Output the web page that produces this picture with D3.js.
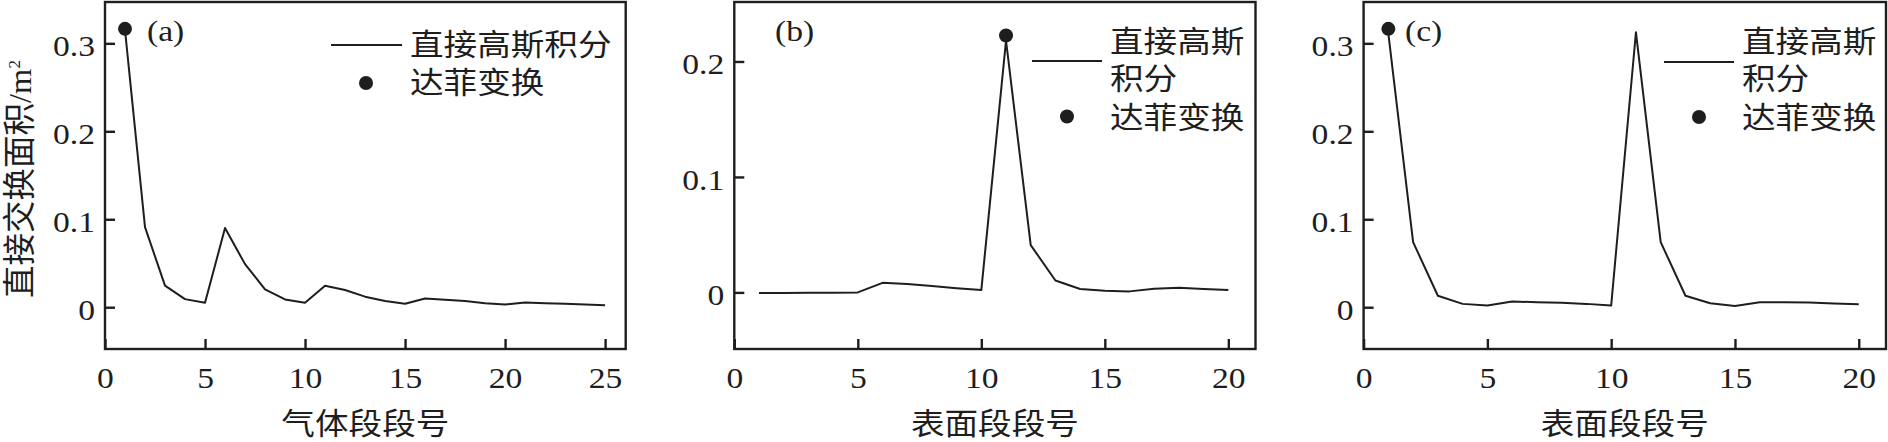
<!DOCTYPE html>
<html><head><meta charset="utf-8">
<script src="https://cdn.jsdelivr.net/npm/d3@7"></script>
<style>body{margin:0;background:#fff} svg{display:block}</style>
</head><body>
<svg id="chart" width="1888" height="442"></svg>
<script>
// ---------- data ----------
const segA = [1,2,3,4,5,6,7,8,9,10,11,12,13,14,15,16,17,18,19,20,21,22,23,24,25];
const gaussA = [0.315,0.091,0.0245,0.0092,0.005,0.090,0.049,0.0203,0.0088,0.005,0.0245,0.0195,0.012,0.007,0.004,0.010,0.0085,0.007,0.0046,0.003,0.0054,0.0046,0.004,0.003,0.0023];
const daffyAx = [1];
const daffyAy = [0.3165];

const segB = [1,2,3,4,5,6,7,8,9,10,11,12,13,14,15,16,17,18,19,20];
const gaussB = [-0.0005,-0.0004,-0.0003,-0.0002,0,0.0083,0.0072,0.0055,0.0037,0.002,0.218,0.041,0.0103,0.0029,0.0014,0.0009,0.0032,0.004,0.0029,0.002];
const daffyBx = [11];
const daffyBy = [0.2225];

const segC = [1,2,3,4,5,6,7,8,9,10,11,12,13,14,15,16,17,18,19,20];
const gaussC = [0.311,0.074,0.013,0.0038,0.0019,0.0065,0.0057,0.005,0.0038,0.0019,0.3126,0.074,0.013,0.0046,0.0015,0.0057,0.0057,0.0054,0.0042,0.0034];
const daffyCx = [1];
const daffyCy = [0.3165];

const xTicksA = [0,5,10,15,20,25];
const xTicksBC = [0,5,10,15,20];
const yTicksAC = [0,0.1,0.2,0.3];
const yTicksB = [0,0.1,0.2];
const tags = ['(a)','(b)','(c)'];
const xTitles = ['气体段段号','表面段段号','表面段段号'];
const yTitle = '直接交换面积/m';
const legendLine = '直接高斯积分';
const legendLineWrapped = ['直接高斯','积分'];
const legendDot = '达菲变换';

// ---------- layout ----------
const SX = 1.12;
const INK = '#1e1e1e';
const serif = "'Liberation Serif','Times New Roman',serif";
const cjk = "'Liberation Serif','Noto Sans CJK SC',sans-serif";
const plotTop = 2, plotBottom = 349;

const panels = [
  {xs: segA, ys: gaussA, dx: daffyAx, dy: daffyAy, left: 105, right: 625.7, xDom: [0, 26.03], yDom: [-0.0475, 0.347],
   xTicks: xTicksA, yTicks: yTicksAC, tagX: 147,
   legend: {line: [331, 402, 45], textX: 410, rows: [[legendLine, 44], [legendDot, 82]], dot: [366, 83]}},
  {xs: segB, ys: gaussB, dx: daffyBx, dy: daffyBy, left: 734.3, right: 1255.5, xDom: [0, 21.1], yDom: [-0.049, 0.2515],
   xTicks: xTicksBC, yTicks: yTicksB, tagX: 775,
   legend: {line: [1032, 1102, 61], textX: 1110, rows: [[legendLineWrapped[0], 41], [legendLineWrapped[1], 78], [legendDot, 117]], dot: [1067, 116.5]}},
  {xs: segC, ys: gaussC, dx: daffyCx, dy: daffyCy, left: 1363.6, right: 1886, xDom: [0, 21.1], yDom: [-0.0475, 0.347],
   xTicks: xTicksBC, yTicks: yTicksAC, tagX: 1405,
   legend: {line: [1664, 1734, 62], textX: 1742, rows: [[legendLineWrapped[0], 41], [legendLineWrapped[1], 78], [legendDot, 117]], dot: [1699, 117]}}
];

const svg = d3.select('#chart');
const fmt = d => d === 0 ? '0' : d3.format('.1f')(d);

panels.forEach((p, i) => {
  const x = d3.scaleLinear().domain(p.xDom).range([p.left, p.right]);
  const y = d3.scaleLinear().domain(p.yDom).range([plotBottom, plotTop]);
  const g = svg.append('g');

  // y axis
  const ya = g.append('g').attr('transform', `translate(${p.left},0)`)
    .call(d3.axisLeft(y).tickValues(p.yTicks).tickSizeInner(-10).tickSizeOuter(0).tickPadding(10).tickFormat(fmt));
  ya.select('.domain').remove();
  ya.selectAll('.tick line').attr('stroke', INK).attr('stroke-width', 2.4);
  ya.selectAll('.tick text').attr('x', null).attr('dy', '0.41em')
    .attr('transform', `translate(-10,0) scale(${SX},1)`)
    .attr('font-family', serif).attr('font-size', 30).attr('fill', INK);

  // x axis
  const xa = g.append('g').attr('transform', `translate(0,${plotBottom})`)
    .call(d3.axisBottom(x).tickValues(p.xTicks).tickSizeInner(-10).tickSizeOuter(0).tickFormat(d3.format('d')));
  xa.select('.domain').remove();
  xa.selectAll('.tick line').attr('stroke', INK).attr('stroke-width', 2.4);
  xa.selectAll('.tick text').attr('y', null).attr('dy', null)
    .attr('transform', `translate(0,39) scale(${SX},1)`)
    .attr('font-family', serif).attr('font-size', 30).attr('fill', INK);

  // frame
  g.append('rect').attr('x', p.left).attr('y', plotTop).attr('width', p.right - p.left).attr('height', plotBottom - plotTop)
    .attr('fill', 'none').attr('stroke', INK).attr('stroke-width', 2.4);

  // line
  const line = d3.line().x((d, k) => x(p.xs[k])).y(d => y(d));
  g.append('path').datum(p.ys).attr('d', line).attr('fill', 'none').attr('stroke', INK)
    .attr('stroke-width', 2).attr('stroke-linejoin', 'round');

  // Daffy dots
  g.selectAll('circle.dot').data(p.dy).join('circle').attr('class', 'dot')
    .attr('cx', (d, k) => x(p.dx[k])).attr('cy', d => y(d)).attr('r', 7).attr('fill', INK);

  // tag
  g.append('text').attr('transform', `translate(${p.tagX},40.7) scale(${SX},1)`)
    .attr('font-family', serif).attr('font-size', 30).attr('fill', INK).text(tags[i]);

  // legend
  const L = p.legend;
  g.append('line').attr('x1', L.line[0]).attr('x2', L.line[1]).attr('y1', L.line[2]).attr('y2', L.line[2])
    .attr('stroke', INK).attr('stroke-width', 2);
  g.append('circle').attr('cx', L.dot[0]).attr('cy', L.dot[1]).attr('r', 7).attr('fill', INK);
  L.rows.forEach(r => {
    g.append('text').attr('transform', `translate(${L.textX},${r[1]}) scale(${SX},1)`)
      .attr('dy', '0.36em').attr('font-family', cjk).attr('font-size', 30).attr('fill', INK).text(r[0]);
  });

  // x title
  g.append('text').attr('transform', `translate(${(p.left + p.right) / 2},423.5) scale(${SX},1)`)
    .attr('dy', '0.36em').attr('text-anchor', 'middle')
    .attr('font-family', cjk).attr('font-size', 30).attr('fill', INK).text(xTitles[i]);
});

// y title (panel a only)
const yt = svg.append('text').attr('transform', 'translate(19,179) rotate(-90)')
  .attr('dy', '0.36em').attr('text-anchor', 'middle')
  .attr('font-family', cjk).attr('font-size', 32.5).attr('fill', INK);
yt.append('tspan').text(yTitle);
yt.append('tspan').attr('font-size', 17).attr('dy', '-0.65em').text('2');
</script>
</body></html>
